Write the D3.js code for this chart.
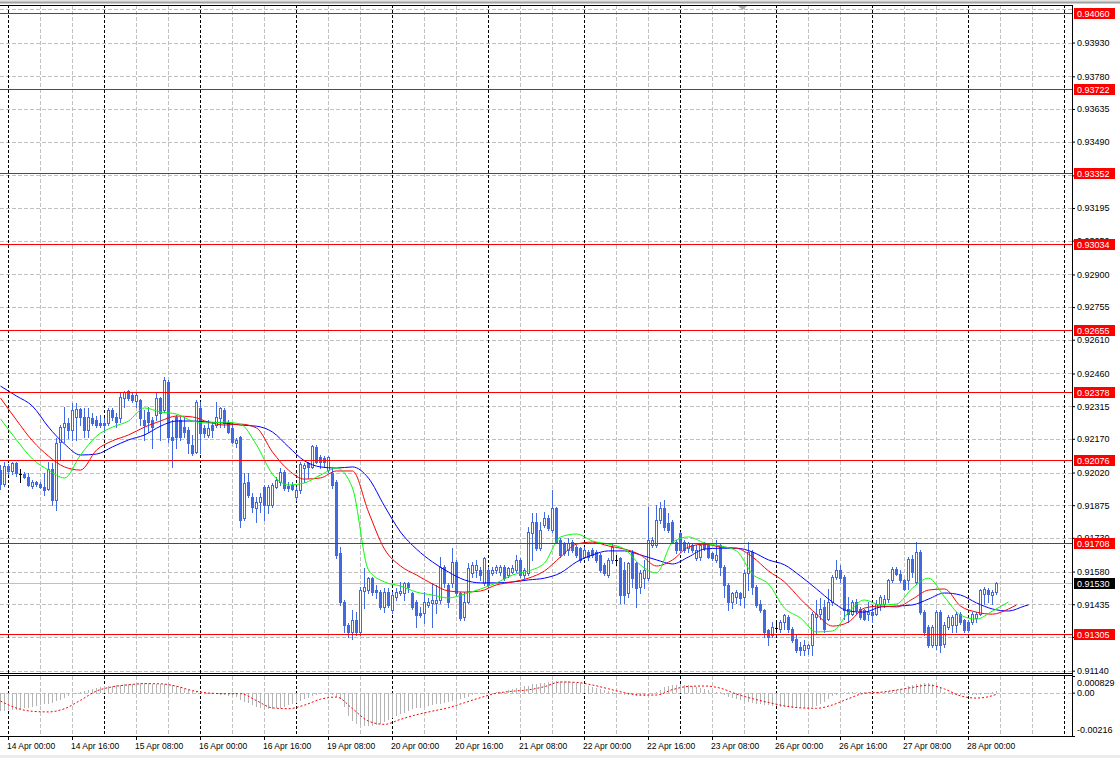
<!DOCTYPE html>
<html><head><meta charset="utf-8">
<script src="https://cdn.jsdelivr.net/npm/d3@7"></script>
<style>
html,body{margin:0;padding:0;background:#fff;}
svg{display:block;}
text{font-family:"Liberation Sans",Arial,sans-serif;}
</style></head><body>
<svg id="c" width="1120" height="758"></svg>
<script>
// ---------- DATA (H1 bars, first bar 13 Apr 22:00) ----------
const firstBarUTC = [2021, 3, 13, 22];
const opens = [
0.92031,0.91969,0.92049,0.92027,0.92063,0.92013,0.92013,0.92000,0.91960,0.91978,
0.91969,0.91956,0.91947,0.92036,0.91898,0.92156,0.92222,0.92240,0.92209,0.92267,
0.92302,0.92267,0.92209,0.92262,0.92253,0.92240,0.92240,0.92240,0.92298,0.92267,
0.92262,0.92351,0.92383,0.92365,0.92338,0.92342,0.92253,0.92289,0.92253,0.92276,
0.92351,0.92298,0.92422,0.92178,0.92267,0.92253,0.92222,0.92209,0.92143,0.92111,
0.92307,0.92218,0.92187,0.92231,0.92231,0.92262,0.92298,0.92244,0.92218,0.92152,
0.92178,0.91818,0.91978,0.91911,0.91862,0.91889,0.91956,0.91876,0.91876,0.91956,
0.91978,0.92022,0.91960,0.91965,0.91911,0.91942,0.92040,0.92063,0.92045,0.92134,
0.92089,0.92085,0.92031,0.92018,0.91978,0.91663,0.91445,0.91343,0.91312,0.91365,
0.91312,0.91494,0.91498,0.91552,0.91498,0.91489,0.91423,0.91489,0.91409,0.91467,
0.91485,0.91485,0.91530,0.91485,0.91445,0.91396,0.91396,0.91432,0.91441,0.91441,
0.91454,0.91600,0.91521,0.91530,0.91623,0.91485,0.91378,0.91445,0.91574,0.91587,
0.91587,0.91530,0.91587,0.91574,0.91587,0.91578,0.91600,0.91565,0.91578,0.91587,
0.91632,0.91565,0.91574,0.91752,0.91800,0.91685,0.91787,0.91818,0.91765,0.91862,
0.91720,0.91707,0.91676,0.91711,0.91689,0.91685,0.91645,0.91667,0.91676,0.91667,
0.91654,0.91609,0.91565,0.91632,0.91632,0.91640,0.91587,0.91485,0.91663,0.91618,
0.91512,0.91552,0.91552,0.91698,0.91698,0.91809,0.91862,0.91796,0.91800,0.91711,
0.91752,0.91711,0.91685,0.91698,0.91640,0.91645,0.91707,0.91698,0.91663,0.91632,
0.91698,0.91600,0.91521,0.91445,0.91467,0.91485,0.91467,0.91574,0.91667,0.91512,
0.91436,0.91409,0.91321,0.91299,0.91330,0.91325,0.91356,0.91378,0.91325,0.91281,
0.91245,0.91232,0.91241,0.91254,0.91378,0.91391,0.91423,0.91369,0.91445,0.91556,
0.91587,0.91556,0.91414,0.91391,0.91445,0.91414,0.91409,0.91391,0.91400,0.91391,
0.91436,0.91436,0.91458,0.91543,0.91591,0.91569,0.91543,0.91543,0.91636,0.91534,
0.91667,0.91400,0.91334,0.91254,0.91254,0.91400,0.91258,0.91334,0.91343,0.91343,
0.91391,0.91365,0.91356,0.91356,0.91374,0.91391,0.91480,0.91498,0.91476,0.91489];
const highs = [
0.92054,0.92067,0.92058,0.92067,0.92067,0.92036,0.92022,0.92018,0.91987,0.91983,
0.91978,0.92018,0.92067,0.92063,0.92174,0.92231,0.92311,0.92262,0.92329,0.92329,
0.92307,0.92307,0.92307,0.92285,0.92271,0.92276,0.92262,0.92307,0.92307,0.92285,
0.92378,0.92383,0.92387,0.92374,0.92378,0.92347,0.92298,0.92311,0.92267,0.92374,
0.92356,0.92445,0.92431,0.92253,0.92276,0.92267,0.92267,0.92222,0.92187,0.92342,
0.92333,0.92231,0.92253,0.92244,0.92333,0.92311,0.92307,0.92253,0.92240,0.92174,
0.92182,0.92018,0.92018,0.91929,0.91911,0.91929,0.91965,0.91965,0.91974,0.92000,
0.92040,0.92031,0.91978,0.91978,0.91956,0.92067,0.92063,0.92067,0.92143,0.92143,
0.92098,0.92094,0.92094,0.92040,0.91987,0.91689,0.91454,0.91352,0.91409,0.91400,
0.91512,0.91596,0.91556,0.91556,0.91521,0.91498,0.91507,0.91507,0.91489,0.91507,
0.91534,0.91534,0.91534,0.91489,0.91454,0.91423,0.91489,0.91463,0.91530,0.91521,
0.91645,0.91609,0.91530,0.91685,0.91632,0.91489,0.91489,0.91618,0.91623,0.91632,
0.91600,0.91645,0.91600,0.91600,0.91609,0.91609,0.91609,0.91600,0.91609,0.91654,
0.91640,0.91596,0.91778,0.91841,0.91841,0.91800,0.91845,0.91832,0.91942,0.91867,
0.91729,0.91711,0.91729,0.91720,0.91698,0.91689,0.91689,0.91676,0.91685,0.91676,
0.91663,0.91618,0.91640,0.91707,0.91654,0.91645,0.91623,0.91623,0.91676,0.91623,
0.91587,0.91632,0.91867,0.91734,0.91876,0.91889,0.91898,0.91841,0.91809,0.91720,
0.91756,0.91720,0.91711,0.91707,0.91698,0.91707,0.91711,0.91707,0.91667,0.91720,
0.91707,0.91609,0.91530,0.91489,0.91498,0.91489,0.91587,0.91711,0.91676,0.91521,
0.91454,0.91414,0.91325,0.91356,0.91365,0.91365,0.91391,0.91387,0.91334,0.91299,
0.91267,0.91276,0.91258,0.91400,0.91454,0.91463,0.91454,0.91503,0.91565,0.91632,
0.91609,0.91565,0.91467,0.91454,0.91458,0.91423,0.91414,0.91445,0.91423,0.91454,
0.91476,0.91476,0.91547,0.91600,0.91600,0.91587,0.91547,0.91645,0.91654,0.91711,
0.91676,0.91409,0.91343,0.91343,0.91409,0.91409,0.91356,0.91387,0.91387,0.91400,
0.91400,0.91369,0.91365,0.91400,0.91400,0.91503,0.91512,0.91507,0.91498,0.91534];
const lows = [
0.91947,0.91960,0.92013,0.92013,0.92004,0.91978,0.91996,0.91960,0.91951,0.91960,
0.91951,0.91920,0.91942,0.91876,0.91854,0.92076,0.92156,0.92174,0.92165,0.92165,
0.92231,0.92178,0.92178,0.92231,0.92222,0.92222,0.92200,0.92231,0.92253,0.92222,
0.92244,0.92311,0.92342,0.92333,0.92311,0.92231,0.92165,0.92200,0.92129,0.92253,
0.92165,0.92289,0.92156,0.92045,0.92129,0.92165,0.92178,0.92107,0.92098,0.92107,
0.92107,0.92178,0.92178,0.92178,0.92222,0.92222,0.92222,0.92196,0.92152,0.92134,
0.91778,0.91809,0.91911,0.91845,0.91800,0.91845,0.91809,0.91840,0.91867,0.91951,
0.91965,0.91942,0.91938,0.91942,0.91898,0.91929,0.91978,0.91996,0.92040,0.92063,
0.92040,0.92045,0.92022,0.91951,0.91640,0.91432,0.91312,0.91290,0.91281,0.91299,
0.91299,0.91418,0.91485,0.91476,0.91463,0.91414,0.91400,0.91423,0.91396,0.91454,
0.91476,0.91454,0.91489,0.91414,0.91334,0.91378,0.91352,0.91423,0.91334,0.91396,
0.91441,0.91512,0.91423,0.91512,0.91476,0.91365,0.91365,0.91441,0.91556,0.91556,
0.91543,0.91521,0.91512,0.91565,0.91574,0.91565,0.91543,0.91556,0.91574,0.91578,
0.91556,0.91552,0.91565,0.91632,0.91676,0.91676,0.91778,0.91765,0.91756,0.91707,
0.91645,0.91654,0.91654,0.91667,0.91645,0.91623,0.91640,0.91632,0.91645,0.91623,
0.91578,0.91565,0.91556,0.91618,0.91609,0.91441,0.91441,0.91467,0.91512,0.91423,
0.91485,0.91507,0.91543,0.91689,0.91689,0.91796,0.91765,0.91756,0.91707,0.91663,
0.91667,0.91667,0.91667,0.91667,0.91632,0.91632,0.91676,0.91640,0.91632,0.91623,
0.91565,0.91467,0.91409,0.91418,0.91441,0.91432,0.91423,0.91498,0.91480,0.91423,
0.91400,0.91290,0.91254,0.91290,0.91312,0.91312,0.91325,0.91312,0.91267,0.91223,
0.91210,0.91210,0.91214,0.91210,0.91303,0.91369,0.91312,0.91365,0.91432,0.91547,
0.91534,0.91369,0.91356,0.91387,0.91391,0.91369,0.91365,0.91365,0.91356,0.91387,
0.91409,0.91423,0.91445,0.91534,0.91565,0.91534,0.91498,0.91503,0.91556,0.91525,
0.91391,0.91299,0.91245,0.91245,0.91236,0.91223,0.91245,0.91325,0.91312,0.91312,
0.91347,0.91312,0.91312,0.91347,0.91356,0.91387,0.91436,0.91445,0.91436,0.91480];
const closes = [
0.91969,0.92049,0.92027,0.92063,0.92018,0.92013,0.92000,0.91965,0.91978,0.91969,
0.91956,0.91942,0.92036,0.91898,0.92152,0.92222,0.92240,0.92209,0.92298,0.92302,
0.92267,0.92209,0.92267,0.92240,0.92231,0.92231,0.92231,0.92298,0.92267,0.92244,
0.92356,0.92378,0.92351,0.92342,0.92365,0.92262,0.92231,0.92244,0.92222,0.92351,
0.92285,0.92431,0.92178,0.92165,0.92178,0.92178,0.92200,0.92152,0.92107,0.92333,
0.92196,0.92196,0.92218,0.92209,0.92267,0.92307,0.92240,0.92200,0.92156,0.92165,
0.91809,0.91974,0.91920,0.91867,0.91889,0.91911,0.91876,0.91956,0.91965,0.91987,
0.92022,0.91951,0.91951,0.91947,0.91942,0.92058,0.92054,0.92045,0.92138,0.92067,
0.92067,0.92067,0.92089,0.91965,0.91654,0.91445,0.91343,0.91312,0.91365,0.91312,
0.91498,0.91512,0.91552,0.91489,0.91489,0.91423,0.91489,0.91432,0.91476,0.91489,
0.91494,0.91530,0.91512,0.91423,0.91387,0.91387,0.91445,0.91445,0.91454,0.91454,
0.91600,0.91530,0.91445,0.91623,0.91485,0.91374,0.91445,0.91596,0.91609,0.91609,
0.91565,0.91640,0.91521,0.91587,0.91600,0.91600,0.91552,0.91596,0.91596,0.91632,
0.91565,0.91587,0.91756,0.91800,0.91685,0.91765,0.91818,0.91774,0.91862,0.91711,
0.91654,0.91663,0.91707,0.91676,0.91654,0.91632,0.91676,0.91645,0.91654,0.91632,
0.91587,0.91574,0.91632,0.91689,0.91632,0.91476,0.91476,0.91618,0.91552,0.91507,
0.91574,0.91587,0.91720,0.91720,0.91809,0.91862,0.91778,0.91765,0.91711,0.91676,
0.91676,0.91676,0.91707,0.91676,0.91676,0.91698,0.91685,0.91645,0.91640,0.91654,
0.91600,0.91521,0.91445,0.91485,0.91489,0.91463,0.91574,0.91667,0.91512,0.91432,
0.91409,0.91312,0.91290,0.91334,0.91330,0.91356,0.91387,0.91325,0.91276,0.91232,
0.91232,0.91254,0.91254,0.91391,0.91391,0.91414,0.91325,0.91445,0.91556,0.91587,
0.91552,0.91409,0.91391,0.91445,0.91409,0.91378,0.91369,0.91400,0.91387,0.91436,
0.91467,0.91458,0.91543,0.91591,0.91569,0.91543,0.91503,0.91636,0.91578,0.91667,
0.91400,0.91312,0.91254,0.91334,0.91400,0.91254,0.91343,0.91378,0.91378,0.91391,
0.91356,0.91321,0.91321,0.91391,0.91391,0.91498,0.91503,0.91480,0.91489,0.91530];

// Alligator lines, one reading every 4 bars (last reading at the line's end bar)
const alligatorStep = 4;
const jaw = [
0.92404,0.92360,0.92315,0.92222,0.92147,0.92098,0.92102,0.92134,0.92165,0.92187,
0.92226,0.92249,0.92249,0.92244,0.92240,0.92231,0.92226,0.92200,0.92134,0.92072,
0.92045,0.92040,0.92045,0.91995,0.91871,0.91756,0.91680,0.91623,0.91578,0.91543,
0.91530,0.91530,0.91534,0.91543,0.91551,0.91574,0.91623,0.91654,0.91672,0.91672,
0.91654,0.91632,0.91614,0.91645,0.91680,0.91684,0.91684,0.91667,0.91632,0.91610,
0.91560,0.91503,0.91445,0.91405,0.91400,0.91423,0.91427,0.91432,0.91458,0.91485,
0.91476,0.91441,0.91414,0.91405,0.91427,0.91432];
const jawEndBar = 257;
const teeth = [
0.92351,0.92253,0.92161,0.92093,0.92045,0.92031,0.92120,0.92161,0.92187,0.92222,
0.92249,0.92271,0.92267,0.92244,0.92231,0.92235,0.92218,0.92111,0.92031,0.91991,
0.91996,0.92027,0.92027,0.91845,0.91680,0.91605,0.91565,0.91525,0.91494,0.91489,
0.91494,0.91521,0.91534,0.91551,0.91583,0.91645,0.91702,0.91711,0.91694,0.91680,
0.91654,0.91605,0.91632,0.91689,0.91702,0.91689,0.91684,0.91645,0.91583,0.91534,
0.91458,0.91391,0.91338,0.91356,0.91418,0.91427,0.91423,0.91458,0.91498,0.91503,
0.91427,0.91400,0.91391,0.91414,0.91432];
const teethEndBar = 254;
const lips = [
0.92258,0.92165,0.92080,0.92031,0.91996,0.92098,0.92182,0.92222,0.92249,0.92307,
0.92289,0.92280,0.92249,0.92240,0.92244,0.92235,0.92143,0.92013,0.91965,0.91974,
0.92009,0.92040,0.91951,0.91587,0.91534,0.91516,0.91489,0.91476,0.91463,0.91480,
0.91503,0.91530,0.91565,0.91583,0.91618,0.91734,0.91747,0.91716,0.91702,0.91680,
0.91609,0.91574,0.91711,0.91734,0.91707,0.91694,0.91672,0.91569,0.91525,0.91418,
0.91374,0.91312,0.91316,0.91400,0.91454,0.91432,0.91436,0.91507,0.91551,0.91467,
0.91387,0.91369,0.91405,0.91445];
const lipsEndBar = 252;

// MACD histogram (one per bar) and signal (every 4 bars)
const macdHist = [
-0.00092,-0.00090,-0.00088,-0.00086,-0.00084,-0.00082,-0.00079,-0.00076,-0.00072,-0.00067,
-0.00063,-0.00059,-0.00055,-0.00050,-0.00044,-0.00036,-0.00027,-0.00017,-0.00008,-0.00002,
0.00005,0.00010,0.00015,0.00019,0.00023,0.00027,0.00031,0.00033,0.00035,0.00037,
0.00039,0.00041,0.00043,0.00044,0.00045,0.00046,0.00046,0.00046,0.00045,0.00044,
0.00043,0.00042,0.00041,0.00038,0.00033,0.00027,0.00020,0.00012,0.00007,0.00003,
0.00000,-0.00002,-0.00005,-0.00007,-0.00009,-0.00011,-0.00013,-0.00015,-0.00017,-0.00024,
-0.00035,-0.00046,-0.00054,-0.00062,-0.00070,-0.00077,-0.00083,-0.00082,-0.00080,-0.00078,
-0.00075,-0.00071,-0.00062,-0.00056,-0.00050,-0.00042,-0.00034,-0.00026,-0.00018,-0.00012,
-0.00007,-0.00005,-0.00005,-0.00010,-0.00020,-0.00033,-0.00070,-0.00116,-0.00140,-0.00158,
-0.00163,-0.00166,-0.00166,-0.00164,-0.00161,-0.00158,-0.00148,-0.00137,-0.00125,-0.00114,
-0.00106,-0.00099,-0.00091,-0.00083,-0.00079,-0.00075,-0.00071,-0.00067,-0.00063,-0.00059,
-0.00055,-0.00050,-0.00046,-0.00042,-0.00037,-0.00033,-0.00027,-0.00021,-0.00014,-0.00008,
-0.00008,-0.00006,-0.00004,-0.00002,0.00000,0.00000,0.00005,0.00011,0.00017,0.00023,
0.00027,0.00031,0.00035,0.00041,0.00043,0.00047,0.00050,0.00053,0.00056,0.00058,
0.00058,0.00058,0.00056,0.00053,0.00050,0.00046,0.00040,0.00034,0.00029,0.00025,
0.00019,0.00013,0.00007,0.00002,-0.00002,-0.00006,-0.00010,-0.00012,-0.00014,-0.00015,
-0.00016,-0.00017,-0.00017,-0.00008,0.00000,0.00015,0.00030,0.00035,0.00038,0.00040,
0.00041,0.00040,0.00038,0.00034,0.00030,0.00025,0.00018,0.00012,0.00006,0.00001,
0.00000,-0.00010,-0.00020,-0.00025,-0.00030,-0.00036,-0.00041,-0.00046,-0.00051,-0.00055,
-0.00058,-0.00061,-0.00064,-0.00067,-0.00069,-0.00071,-0.00072,-0.00073,-0.00075,-0.00075,
-0.00075,-0.00075,-0.00075,-0.00072,-0.00066,-0.00058,-0.00045,-0.00030,-0.00017,-0.00010,
-0.00005,0.00000,0.00000,0.00000,0.00000,0.00000,0.00000,0.00000,0.00001,0.00001,
0.00003,0.00005,0.00008,0.00012,0.00015,0.00019,0.00025,0.00031,0.00036,0.00041,
0.00044,0.00046,0.00046,0.00042,0.00037,0.00028,0.00005,-0.00008,-0.00013,-0.00013,
-0.00013,-0.00013,-0.00013,-0.00013,-0.00012,-0.00010,-0.00007,-0.00003,0.00000,0.00008];
const macdSignal = [
-0.00042,-0.00077,-0.00093,-0.00096,-0.00080,-0.00038,0.00008,0.00029,0.00039,0.00045,
0.00044,0.00032,0.00010,-0.00002,-0.00005,-0.00005,-0.00040,-0.00076,-0.00080,-0.00062,
-0.00033,-0.00022,-0.00080,-0.00142,-0.00158,-0.00133,-0.00110,-0.00092,-0.00075,-0.00050,
-0.00025,-0.00003,0.00007,0.00014,0.00030,0.00053,0.00051,0.00038,0.00019,0.00000,
-0.00012,-0.00012,0.00015,0.00031,0.00033,0.00022,-0.00007,-0.00030,-0.00049,-0.00066,
-0.00076,-0.00078,-0.00061,-0.00030,-0.00003,0.00002,0.00013,0.00026,0.00037,0.00018,
-0.00016,-0.00027,-0.00015,-0.00008];
const macdSignalEndBar = 249;
const macdRange = [-0.00216, 0.000829];
const macdTicks = [0.000829, 0, -0.00216];
const macdTickLabels = ["0.000829", "0.00", "-0.00216"];

const levelLines = [0.94060, 0.93722, 0.93352, 0.93034, 0.92655, 0.92378, 0.92076, 0.91708, 0.91305];
const currentPrice = 0.91530;
const priceTicks = [0.93930,0.93780,0.93635,0.93490,0.93340,0.93195,0.93050,0.92900,0.92755,0.92610,
  0.92460,0.92315,0.92170,0.92020,0.91875,0.91730,0.91580,0.91435,0.91290,0.91140];
const priceGridOnly = [0.94077];
const priceRange = [0.911296, 0.940969];
const xTickLabels = ["14 Apr 00:00","14 Apr 16:00","15 Apr 08:00","16 Apr 00:00","16 Apr 16:00",
  "19 Apr 08:00","20 Apr 00:00","20 Apr 16:00","21 Apr 08:00","22 Apr 00:00","22 Apr 16:00",
  "23 Apr 08:00","26 Apr 00:00","26 Apr 16:00","27 Apr 08:00","28 Apr 00:00"];
const visibleBars = 268;

// ---------- LAYOUT ----------
const plotR = 1072, mainTop = 5, mainBot = 673, subTop = 676, subBot = 736;
const candleColor = "#4169e1";

const svg = d3.select("#c");
svg.append("rect").attr("width", 1120).attr("height", 758).attr("fill", "#fff");

// bar times (hourly, weekends skipped)
const barTimes = [];
{
  let t = Date.UTC(...firstBarUTC);
  while (barTimes.length < visibleBars + 2) {
    const d = new Date(t);
    const wd = d.getUTCDay();
    if (wd !== 0 && wd !== 6) barTimes.push(d);
    t += 3600000;
  }
}
const fmtTime = d3.utcFormat("%-d %b %H:%M");
const labelBars = xTickLabels.map(l => barTimes.findIndex(d => fmtTime(d) === l));

const x = d3.scaleLinear().domain([0, visibleBars]).range([0, plotR]);
const y = d3.scaleLinear().domain(priceRange).range([mainBot, mainTop]);
const m = d3.scaleLinear().domain(macdRange).range([subBot, subTop]);
const px = i => Math.round(x(i));

const defs = svg.append("defs");
defs.append("clipPath").attr("id", "cm").append("rect").attr("x", 0).attr("y", mainTop).attr("width", plotR).attr("height", mainBot - mainTop);
defs.append("clipPath").attr("id", "cs").append("rect").attr("x", 0).attr("y", subTop).attr("width", plotR).attr("height", subBot - subTop);

const gMain = svg.append("g").attr("clip-path", "url(#cm)");
const gSub = svg.append("g").attr("clip-path", "url(#cs)");

// horizontal grid
gMain.selectAll("line.hg").data(priceTicks.concat(priceGridOnly)).join("line")
  .attr("x1", 0).attr("x2", plotR)
  .attr("y1", d => Math.round(y(d)) + 0.5).attr("y2", d => Math.round(y(d)) + 0.5)
  .attr("stroke", "#c0c0c0").attr("stroke-dasharray", "4,2");
gSub.append("line").attr("x1", 0).attr("x2", plotR)
  .attr("y1", Math.round(m(0)) + 0.5).attr("y2", Math.round(m(0)) + 0.5)
  .attr("stroke", "#c0c0c0").attr("stroke-dasharray", "4,2");

// vertical grid & day separators
const gridBars = d3.range(labelBars[0], visibleBars + 1, 8);
[gMain, gSub].forEach((g, gi) => {
  const y1 = gi === 0 ? mainTop : subTop, y2 = gi === 0 ? mainBot : subBot;
  g.selectAll("line.vg").data(gridBars).join("line")
    .attr("x1", d => px(d) + 0.5).attr("x2", d => px(d) + 0.5)
    .attr("y1", y1).attr("y2", y2)
    .attr("stroke", d => barTimes[d].getUTCHours() === 0 ? "#000" : "#c0c0c0")
    .attr("stroke-dasharray", d => barTimes[d].getUTCHours() === 0 ? "3,2" : "4,2");
});

// current price line
gMain.append("line").attr("x1", 0).attr("x2", plotR)
  .attr("y1", Math.round(y(currentPrice)) + 0.5).attr("y2", Math.round(y(currentPrice)) + 0.5)
  .attr("stroke", "#c0c0c0");

// candles
const bars = opens.map((o, i) => ({ i, o, h: highs[i], l: lows[i], c: closes[i] }));
const gc = gMain.append("g");
bars.forEach(b => {
  const X = px(b.i);
  const doji = b.o === b.c;
  const col = doji ? "#000" : candleColor;
  gc.append("line").attr("x1", X + 0.5).attr("x2", X + 0.5)
    .attr("y1", Math.round(y(b.h))).attr("y2", Math.round(y(b.l)) + 1)
    .attr("stroke", col);
  const yo = Math.round(y(b.o)), yc = Math.round(y(b.c));
  if (doji) {
    gc.append("line").attr("x1", X - 1).attr("x2", X + 2).attr("y1", yo + 0.5).attr("y2", yo + 0.5).attr("stroke", "#000");
  } else if (b.c < b.o) {
    gc.append("rect").attr("x", X - 1).attr("y", yo).attr("width", 3).attr("height", Math.max(1, yc - yo + 1)).attr("fill", candleColor);
  } else {
    const hgt = yo - yc;
    if (hgt < 2) {
      gc.append("rect").attr("x", X - 1).attr("y", yc).attr("width", 3).attr("height", hgt + 1).attr("fill", candleColor);
    } else {
      gc.append("rect").attr("x", X - 0.5).attr("y", yc + 0.5).attr("width", 2).attr("height", hgt)
        .attr("fill", "#fff").attr("stroke", candleColor).attr("stroke-width", 1);
    }
  }
});

// alligator
function stepped(arr, endBar) {
  return arr.map((v, j) => ({ b: Math.min(j * alligatorStep, endBar), v }));
}
const line = d3.line().x(d => x(d.b) + 0.5).y(d => y(d.v)).curve(d3.curveMonotoneX);
[[jaw, jawEndBar, "#0000ff"], [teeth, teethEndBar, "#ff0000"], [lips, lipsEndBar, "#00ff00"]].forEach(([a, e, c]) => {
  gMain.append("path").attr("d", line(stepped(a, e))).attr("fill", "none").attr("stroke", c).attr("stroke-width", 1);
});

// level lines
gMain.selectAll("line.lv").data(levelLines).join("line")
  .attr("x1", 0).attr("x2", plotR)
  .attr("y1", d => Math.round(y(d)) + 0.5).attr("y2", d => Math.round(y(d)) + 0.5)
  .attr("stroke", "#ff0000");

// MACD histogram
const z0 = Math.round(m(0));
gSub.selectAll("line.hb").data(macdHist).join("line")
  .attr("x1", (d, i) => px(i) + 0.5).attr("x2", (d, i) => px(i) + 0.5)
  .attr("y1", z0).attr("y2", d => { const v = Math.round(m(d)); return v === z0 ? z0 + (d < 0 ? 1 : -1) : v; })
  .attr("stroke", "#b4b4b4");
const sLine = d3.line().x(d => x(d.b) + 0.5).y(d => m(d.v)).curve(d3.curveMonotoneX);
gSub.append("path").attr("d", sLine(macdSignal.map((v, j) => ({ b: Math.min(j * 4, macdSignalEndBar), v }))))
  .attr("fill", "none").attr("stroke", "#ff0000").attr("stroke-dasharray", "2,2");

// frame
svg.append("rect").attr("x", 0).attr("y", 0).attr("width", 1120).attr("height", 1.5).attr("fill", "#e4e4e4");
svg.append("rect").attr("x", 0).attr("y", 1.5).attr("width", 1120).attr("height", 2).attr("fill", "#a0a0a0");
svg.append("line").attr("x1", 0).attr("x2", plotR + 1).attr("y1", mainTop + 0.5).attr("y2", mainTop + 0.5).attr("stroke", "#000");
svg.append("line").attr("x1", 0).attr("x2", plotR + 1).attr("y1", mainBot + 0.5).attr("y2", mainBot + 0.5).attr("stroke", "#000");
svg.append("line").attr("x1", 0).attr("x2", plotR + 1).attr("y1", subTop - 0.5).attr("y2", subTop - 0.5).attr("stroke", "#000");
svg.append("line").attr("x1", 0).attr("x2", plotR + 1).attr("y1", subBot + 0.5).attr("y2", subBot + 0.5).attr("stroke", "#000");
svg.append("line").attr("x1", plotR + 0.5).attr("x2", plotR + 0.5).attr("y1", mainTop).attr("y2", subBot + 1).attr("stroke", "#000");
svg.append("path").attr("d", "M738,6 L747,6 L742.5,10 Z").attr("fill", "#a8a8a8");
svg.append("rect").attr("x", 0).attr("y", 755).attr("width", 1120).attr("height", 3).attr("fill", "#ececec");

// price axis
const ay = svg.append("g").attr("transform", `translate(${plotR},0)`)
  .call(d3.axisRight(y).tickValues(priceTicks).tickSize(3).tickPadding(2).tickFormat(d3.format(".5f")));
ay.select(".domain").remove();
ay.selectAll("text").attr("font-size", "9px").attr("fill", "#000").attr("font-family", "Liberation Sans, Arial, sans-serif");
ay.selectAll("line").attr("stroke", "#000");

// level labels
const gl = svg.append("g");
levelLines.forEach(v => {
  const yy = Math.round(y(v));
  gl.append("rect").attr("x", 1074).attr("y", yy - 5).attr("width", 41).attr("height", 11).attr("fill", "#ff0000");
  gl.append("text").attr("x", 1077).attr("y", yy + 3.5).attr("font-size", "9px").attr("fill", "#fff").text(d3.format(".5f")(v));
});
{
  const yy = Math.round(y(currentPrice));
  gl.append("rect").attr("x", 1074).attr("y", yy - 5).attr("width", 41).attr("height", 11).attr("fill", "#000");
  gl.append("text").attr("x", 1077).attr("y", yy + 3.5).attr("font-size", "9px").attr("fill", "#fff").text(d3.format(".5f")(currentPrice));
}

// MACD axis
const am = svg.append("g").attr("transform", `translate(${plotR},0)`)
  .call(d3.axisRight(m).tickValues(macdTicks).tickSize(3).tickPadding(2).tickFormat((d, i) => macdTickLabels[i]));
am.select(".domain").remove();
am.selectAll("text").attr("font-size", "9px").attr("fill", "#000")
  .attr("dy", (d, i) => i === 0 ? "1.05em" : i === 2 ? "-0.35em" : "0.32em");
am.selectAll("line").attr("stroke", "#000");

// time axis
const ax = svg.append("g").attr("transform", `translate(0,${subBot + 1})`)
  .call(d3.axisBottom(x).tickValues(labelBars).tickSize(3).tickPadding(3).tickFormat(i => fmtTime(barTimes[i])));
ax.select(".domain").remove();
ax.selectAll(".tick").attr("transform", d => `translate(${px(d) + 0.5},0)`);
ax.selectAll("text").attr("font-size", "8.5px").attr("fill", "#000").attr("text-anchor", "start").attr("x", -1.5);
ax.selectAll("line").attr("stroke", "#000");
</script>
</body></html>
